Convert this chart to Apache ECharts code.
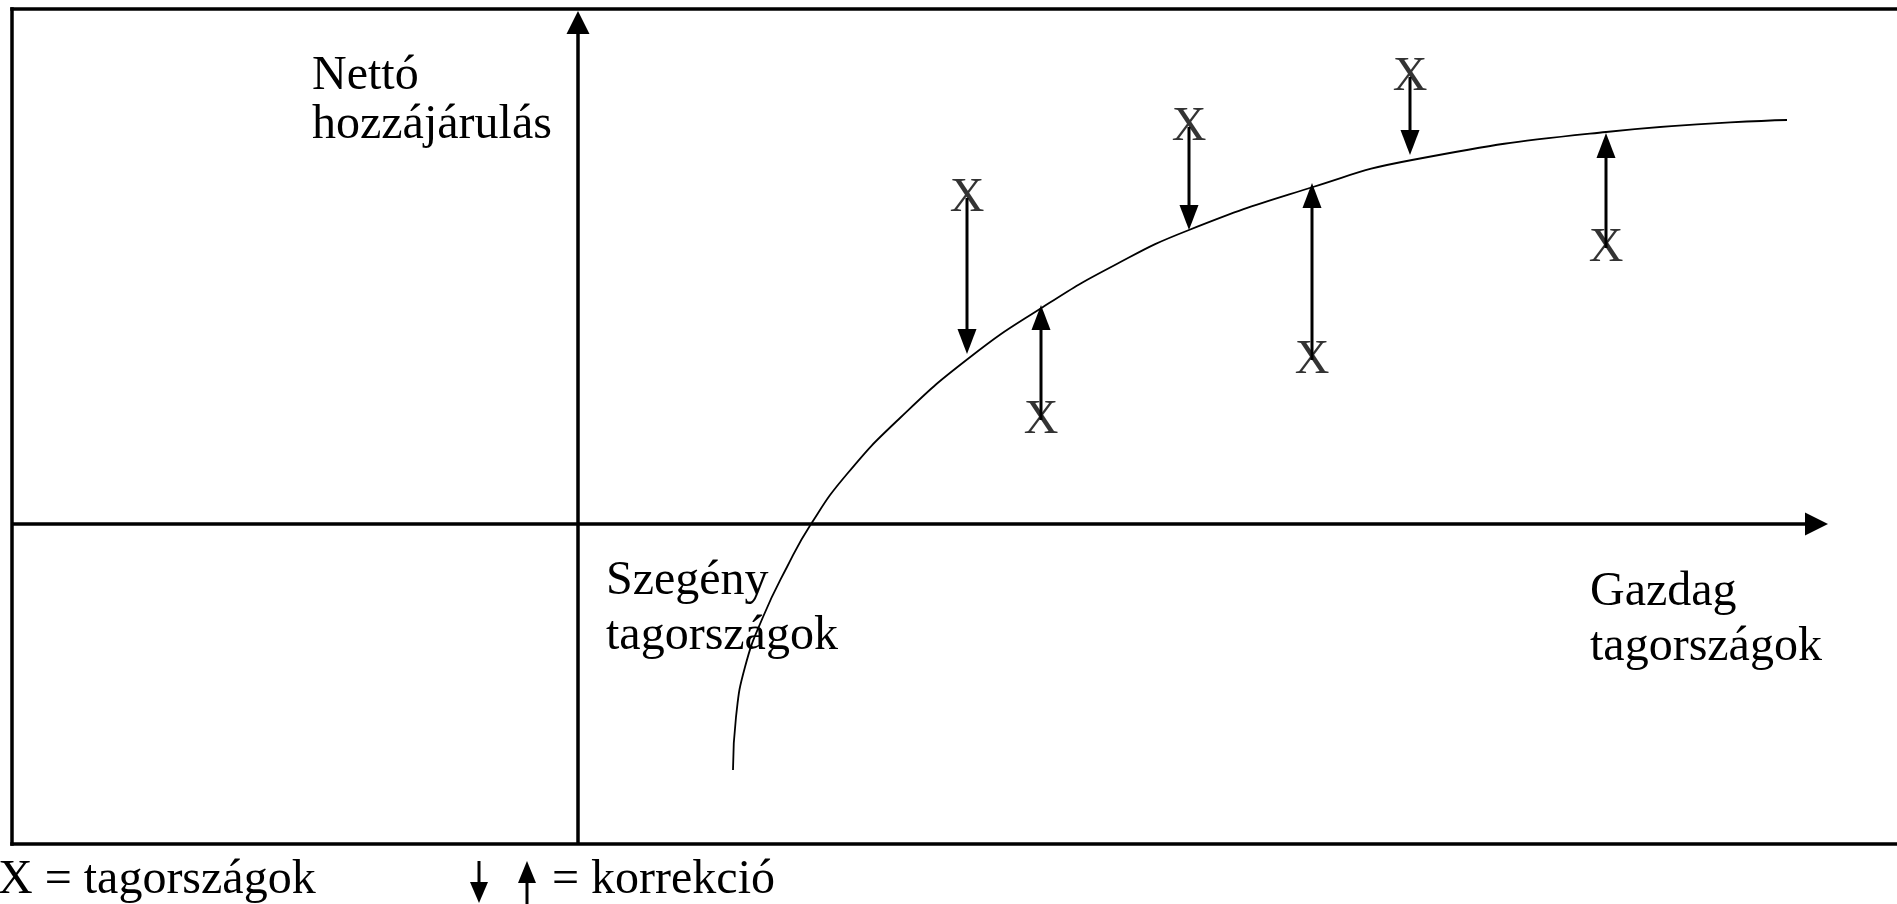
<!DOCTYPE html>
<html><head><meta charset="utf-8">
<script src="https://cdn.jsdelivr.net/npm/echarts@6/dist/echarts.min.js"></script>
<style>html,body{margin:0;padding:0;background:#fff;overflow:hidden}#c{width:1897px;height:904px}</style>
</head><body><div id="c"></div>
<script>
// ---- data (arbitrary schematic units) ----
const curveX = [1.55, 1.58, 1.67, 1.85, 2.09, 2.33, 2.69, 3.22, 3.91, 4.65, 5.35, 6.11, 7.35, 8.34, 10.28, 12.09];
const curveY = [-2.46, -1.93, -1.43, -0.93, -0.43, 0, 0.50, 1.06, 1.66, 2.17, 2.58, 2.94, 3.37, 3.64, 3.92, 4.04];
const memberX = [3.89, 4.63, 6.11, 7.34, 8.32, 10.28];
const memberY = [3.26, 1.04, 3.97, 1.64, 4.47, 2.76];
const correctedY = [1.70, 2.19, 2.94, 3.41, 3.69, 3.91];
const xExtent = [-5.66, 13.39];
const yExtent = [-3.2, 5.15];
const xAxisTip = 12.5;
const yAxisTip = 5.13;
const memberMark = 'X';
const yAxisLabel = ['Nettó', 'hozzájárulás'];
const poorLabel = ['Szegény', 'tagországok'];
const richLabel = ['Gazdag', 'tagországok'];
const legendMember = 'X = tagországok';
const legendCorrection = '= korrekció';

const FONT = 'Liberation Serif, Times New Roman, serif';
const FS = 48;

function arrowRender(headW, headL, lineW) {
  return function (params, api) {
    const p0 = api.coord([api.value(0), api.value(1)]);
    const p1 = api.coord([api.value(2), api.value(3)]);
    const dx = p1[0] - p0[0], dy = p1[1] - p0[1];
    const len = Math.hypot(dx, dy) || 1;
    const ux = dx / len, uy = dy / len;
    const bx = p1[0] - ux * headL, by = p1[1] - uy * headL;
    const nx = -uy, ny = ux;
    return {
      type: 'group',
      children: [
        { type: 'line', shape: { x1: p0[0], y1: p0[1], x2: bx + ux * 2, y2: by + uy * 2 },
          style: { stroke: '#000', lineWidth: lineW } },
        { type: 'polygon', shape: { points: [[p1[0], p1[1]], [bx + nx * headW / 2, by + ny * headW / 2], [bx - nx * headW / 2, by - ny * headW / 2]] },
          style: { fill: '#000' } }
      ]
    };
  };
}

function textBlock(lines, x, firstBaseline, lineH, fs) {
  const size = fs || FS;
  return lines.map((t, i) => ({
    type: 'text',
    x: x,
    y: firstBaseline + i * lineH - size * 0.3375,
    style: { text: t, font: size + 'px ' + FONT, fill: '#000', align: 'left', verticalAlign: 'middle' }
  }));
}

const chart = echarts.init(document.getElementById('c'));
chart.setOption({
  animation: false,
  backgroundColor: '#fff',
  grid: { left: 12, top: 9, right: -20, bottom: 60, outerBoundsMode: 'none', containLabel: false, show: false },
  xAxis: { type: 'value', min: xExtent[0], max: xExtent[1], show: false },
  yAxis: { type: 'value', min: yExtent[0], max: yExtent[1], show: false },
  series: [
    {
      type: 'custom', name: 'axes', clip: false,
      renderItem: arrowRender(23, 23, 3.5),
      encode: { x: [0, 2], y: [1, 3] },
      data: [[xExtent[0], 0, xAxisTip, 0], [0, yExtent[0], 0, yAxisTip]]
    },
    {
      type: 'line', name: 'görbe', smooth: 0.5, showSymbol: false,
      lineStyle: { color: '#000', width: 1.8 },
      data: curveX.map((x, i) => [x, curveY[i]])
    },
    {
      type: 'custom', name: 'korrekció', clip: false,
      renderItem: arrowRender(19, 25, 3),
      encode: { x: [0, 2], y: [1, 3] },
      data: memberX.map((x, i) => [x, memberY[i], x, correctedY[i]])
    },
    {
      type: 'scatter', name: 'tagországok', symbolSize: 1,
      itemStyle: { color: 'rgba(0,0,0,0)' },
      label: { show: true, position: 'inside', formatter: memberMark, color: '#000', fontFamily: FONT, fontSize: FS },
      data: memberX.map((x, i) => [x, memberY[i]])
    }
  ],
  graphic: [
    { type: 'line', shape: { x1: 10.25, y1: 9, x2: 1897, y2: 9 }, style: { stroke: '#000', lineWidth: 3.5 } },
    { type: 'line', shape: { x1: 12, y1: 7.25, x2: 12, y2: 845.75 }, style: { stroke: '#000', lineWidth: 3.5 } },
    { type: 'line', shape: { x1: 10.25, y1: 844, x2: 1897, y2: 844 }, style: { stroke: '#000', lineWidth: 3.5 } },
    ...textBlock(yAxisLabel, 312, 93, 49),
    ...textBlock(poorLabel, 606, 598, 55),
    ...textBlock(richLabel, 1590, 609, 55),
    ...textBlock([legendMember], -2, 897, 0),
    ...textBlock([legendCorrection], 552, 897, 0),
    { type: 'line', shape: { x1: 479, y1: 861, x2: 479, y2: 885 }, style: { stroke: '#000', lineWidth: 3 } },
    { type: 'polygon', shape: { points: [[479, 903], [470, 882], [488, 882]] }, style: { fill: '#000' } },
    { type: 'line', shape: { x1: 527, y1: 880, x2: 527, y2: 904 }, style: { stroke: '#000', lineWidth: 3 } },
    { type: 'polygon', shape: { points: [[527, 861], [518, 883], [536, 883]] }, style: { fill: '#000' } }
  ]
});
</script></body></html>
